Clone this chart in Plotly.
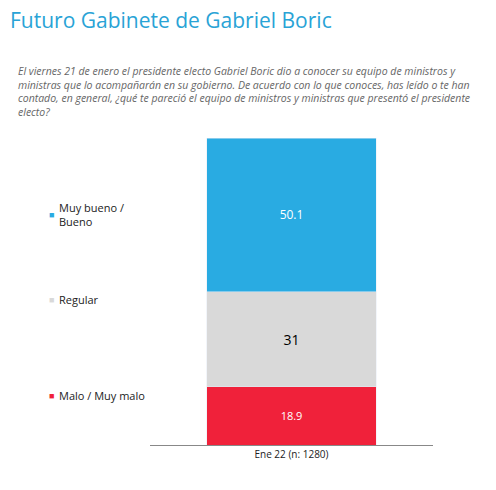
import plotly.graph_objects as go

categories = ["Ene 22 (n: 1280)"]
series_names = ["Malo / Muy malo", "Regular", "Muy bueno /<br>Bueno"]
series_values = [[18.9], [31], [50.1]]
colors = ["#f0213a", "#d9d9d9", "#29abe2"]
text_colors = ["white", "black", "white"]
text_sizes = [11, 14, 12]
text_labels = [["18.9"], ["31"], ["50.1"]]

W, H = 488, 482
fig = go.Figure()
for name, vals, c, tc, ts, tl in zip(series_names, series_values, colors, text_colors, text_sizes, text_labels):
    fig.add_bar(x=categories, y=vals, name=name, marker_color=c, text=tl,
                textposition="inside", insidetextanchor="middle",
                textfont=dict(color=tc, size=ts, family="Open Sans"), showlegend=False)

fig.update_layout(
    barmode="stack", bargap=0.4, width=W, height=H,
    margin=dict(l=0, r=0, t=130, b=45),
    plot_bgcolor="white", paper_bgcolor="white",
    font=dict(family="Open Sans", size=11, color="#222"),
    xaxis=dict(domain=[142/W, 425/W], showline=True, linecolor="#888", ticks="",
               tickfont=dict(size=10)),
    yaxis=dict(range=[0, 100], visible=False),
)
def py(fy):
    return (437 - fy) / 307
fig.add_annotation(xref="paper", yref="paper", x=0, y=py(12), text="Futuro Gabinete de Gabriel Boric",
                   showarrow=False, xanchor="left", yanchor="middle",
                   font=dict(size=21, color="#29a3d6", family="Open Sans"))
sub = ("El viernes 21 de enero el presidente electo Gabriel Boric dio a conocer su equipo de ministros y<br>"
       "ministras que lo acompañarán en su gobierno. De acuerdo con lo que conoces, has leído o te han<br>"
       "contado, en general, ¿qué te pareció el equipo de ministros y ministras que presentó el presidente<br>"
       "electo?")
fig.add_annotation(xref="paper", yref="paper", x=8/W, y=py(54), text="<i>"+sub+"</i>",
                   showarrow=False, xanchor="left", yanchor="top", align="left",
                   font=dict(size=10.5, color="#666", family="Open Sans"))
legend_y = [395, 299, 214]
for name, c, p in zip(series_names, colors, legend_y):
    yy = (445 - p) / 307
    fig.add_annotation(xref="paper", yref="paper", x=39/W, y=yy, text="■", showarrow=False,
                       xanchor="left", yanchor="middle", font=dict(size=9, color=c))
    fig.add_annotation(xref="paper", yref="paper", x=49/W, y=yy, text=name, showarrow=False,
                       xanchor="left", yanchor="middle", align="left",
                       font=dict(size=11, color="#222"))
fig.write_html("out.html")
